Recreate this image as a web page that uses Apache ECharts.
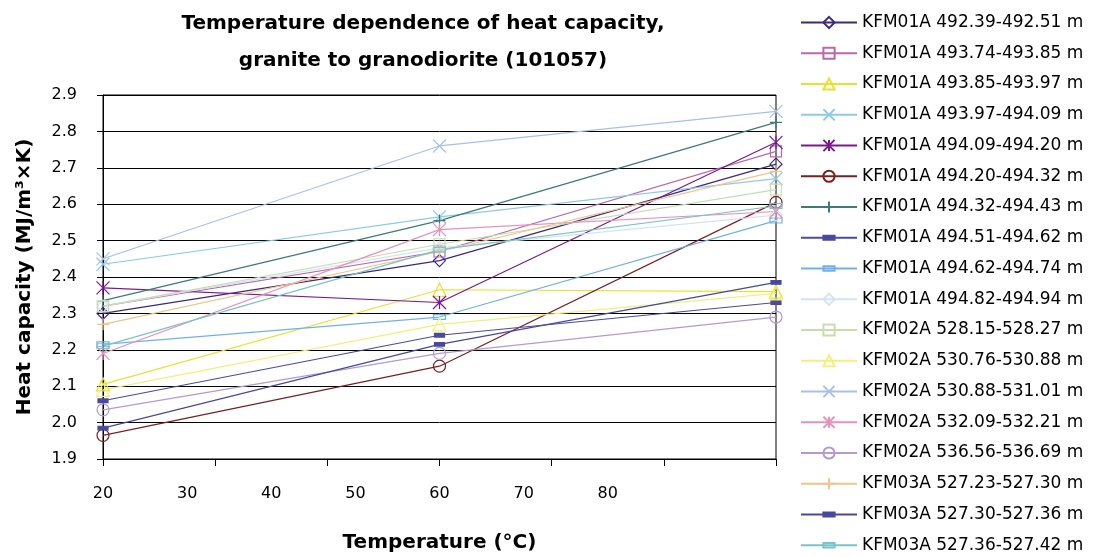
<!DOCTYPE html>
<html><head><meta charset="utf-8">
<script src="https://cdn.jsdelivr.net/npm/echarts@6/dist/echarts.min.js"></script>
<style>html,body{margin:0;padding:0;background:#fff}#c{width:1099px;height:558px}</style>
</head><body><div id="c"></div>
<script>
// ---- data ----
const temperatures = [20, 60, 100];
const xTickLabels = [20, 30, 40, 50, 60, 70, 80];
const seriesNames = [
  'KFM01A 492.39-492.51 m', 'KFM01A 493.74-493.85 m', 'KFM01A 493.85-493.97 m',
  'KFM01A 493.97-494.09 m', 'KFM01A 494.09-494.20 m', 'KFM01A 494.20-494.32 m',
  'KFM01A 494.32-494.43 m', 'KFM01A 494.51-494.62 m', 'KFM01A 494.62-494.74 m',
  'KFM01A 494.82-494.94 m', 'KFM02A 528.15-528.27 m', 'KFM02A 530.76-530.88 m',
  'KFM02A 530.88-531.01 m', 'KFM02A 532.09-532.21 m', 'KFM02A 536.56-536.69 m',
  'KFM03A 527.23-527.30 m', 'KFM03A 527.30-527.36 m', 'KFM03A 527.36-527.42 m'
];
const kfm01a_492_39 = [2.30, 2.445, 2.71];
const kfm01a_493_74 = [2.32, 2.47, 2.745];
const kfm01a_493_85 = [2.105, 2.365, 2.36];
const kfm01a_493_97 = [2.435, 2.565, 2.67];
const kfm01a_494_09 = [2.37, 2.33, 2.77];
const kfm01a_494_20 = [1.965, 2.155, 2.605];
const kfm01a_494_32 = [2.335, 2.555, 2.825];
const kfm01a_494_51 = [2.06, 2.24, 2.33];
const kfm01a_494_62 = [2.215, 2.29, 2.555];
const kfm01a_494_82 = [2.32, 2.48, 2.57];
const kfm02a_528_15 = [2.32, 2.49, 2.64];
const kfm02a_530_76 = [2.09, 2.27, 2.355];
const kfm02a_530_88 = [2.45, 2.76, 2.855];
const kfm02a_532_09 = [2.19, 2.53, 2.58];
const kfm02a_536_56 = [2.035, 2.19, 2.29];
const kfm03a_527_23 = [2.27, 2.47, 2.69];
const kfm03a_527_30 = [1.985, 2.215, 2.385];
const kfm03a_527_36 = [2.21, 2.475, 2.595];
const seriesValues = [
  kfm01a_492_39, kfm01a_493_74, kfm01a_493_85, kfm01a_493_97, kfm01a_494_09, kfm01a_494_20,
  kfm01a_494_32, kfm01a_494_51, kfm01a_494_62, kfm01a_494_82, kfm02a_528_15, kfm02a_530_76,
  kfm02a_530_88, kfm02a_532_09, kfm02a_536_56, kfm03a_527_23, kfm03a_527_30, kfm03a_527_36
];

// ---- styles ----
const X_PATH = 'path://M0,0L10,10M10,0L0,10';
const STAR_PATH = 'path://M0,0L10,10M10,0L0,10M5,0L5,10';
const PLUS_PATH = 'path://M5,0L5,10M0,5L10,5';
const DASH_PATH = 'path://M0,0M10,10M0,3.2h10v3.6h-10z';
const BAR_PATH = 'path://M0,0M12,12M0,3.6h12v4.8h-12z';
const colors = ['#3c2a7a', '#b86aa8', '#e4e42c', '#8ccbe6', '#7a1a8a', '#7a2020',
  '#3d7a78', '#4a4aa0', '#70b0ec', '#d2e4f4', '#c8dcb0', '#f2f07a',
  '#a9c0e8', '#e890b8', '#b49ad0', '#f0c48a', '#4848a0', '#7ac4c8'];
const symbols = ['diamond', 'rect', 'triangle', X_PATH, STAR_PATH, 'circle',
  PLUS_PATH, DASH_PATH, BAR_PATH, 'diamond', 'rect', 'triangle',
  X_PATH, STAR_PATH, 'circle', PLUS_PATH, DASH_PATH, BAR_PATH];
const symbolSizes = [12, 11, 13, 13, 13, 12, 12, 10, 12, 12, 11, 13, 13, 13, 12, 12, 10, 12];
const filled = [false, false, false, false, false, false, false, true, false, false, false, false, false, false, false, false, true, false];
const FONT = 'DejaVu Sans';

const chart = echarts.init(document.getElementById('c'));
const series = seriesNames.map((name, i) => ({
  type: 'line', name,
  xAxisIndex: 0,
  data: temperatures.map((t, j) => [t, seriesValues[i][j]]),
  symbol: symbols[i], symbolSize: symbolSizes[i],
  showAllSymbol: true,
  lineStyle: { color: colors[i], width: 1.2 },
  itemStyle: { color: filled[i] ? colors[i] : 'rgba(0,0,0,0)', borderColor: colors[i], borderWidth: 1.2 },
  emphasis: { disabled: true }
}));

chart.setOption({
  animation: false,
  backgroundColor: '#fff',
  title: {
    text: 'Temperature dependence of heat capacity,\ngranite to granodiorite (101057)',
    left: 418, top: 0, textAlign: 'center',
    textStyle: { fontFamily: FONT, fontSize: 20, fontWeight: 'bold', lineHeight: 37, color: '#000' }
  },
  legend: {
    orient: 'vertical', left: 800, top: 14, padding: 0,
    itemWidth: 56, itemHeight: 14, itemGap: 13.75,
    textStyle: { fontFamily: FONT, fontSize: 17, lineHeight: 16, color: '#000' },
    data: seriesNames
  },
  grid: { left: 103, right: 323, top: 95, bottom: 94, show: true, borderColor: '#000', borderWidth: 1 },
  xAxis: [{
    type: 'value', min: 20, max: 100, interval: 10,
    name: 'Temperature (°C)', nameLocation: 'middle', nameGap: 74,
    nameTextStyle: { fontFamily: FONT, fontSize: 20, fontWeight: 'bold', color: '#000' },
    axisLine: { show: true, lineStyle: { color: '#000', width: 1 } },
    axisTick: { show: false },
    splitLine: { show: false },
    axisLabel: { margin: 27, fontFamily: FONT, fontSize: 16, color: '#000',
      formatter: v => xTickLabels.includes(v) ? String(v) : '' }
  }, {
    type: 'value', min: 0, max: 6, interval: 1, position: 'bottom',
    axisLine: { show: false },
    axisTick: { show: true, length: 7, lineStyle: { color: '#000' } },
    axisLabel: { show: false }, splitLine: { show: false }
  }],
  yAxis: {
    type: 'value', min: 1.9, max: 2.9, interval: 0.1,
    name: 'Heat capacity (MJ/m³×K)', nameLocation: 'middle', nameGap: 68,
    nameTextStyle: { fontFamily: FONT, fontSize: 20, fontWeight: 'bold', color: '#000' },
    axisLine: { show: true, lineStyle: { color: '#000', width: 1 } },
    axisTick: { show: true, length: 6, lineStyle: { color: '#000' } },
    splitLine: { show: true, lineStyle: { color: '#000', width: 1 } },
    axisLabel: { margin: 26, fontFamily: FONT, fontSize: 16, color: '#000',
      formatter: v => v.toFixed(1) }
  },
  series
});
</script></body></html>
